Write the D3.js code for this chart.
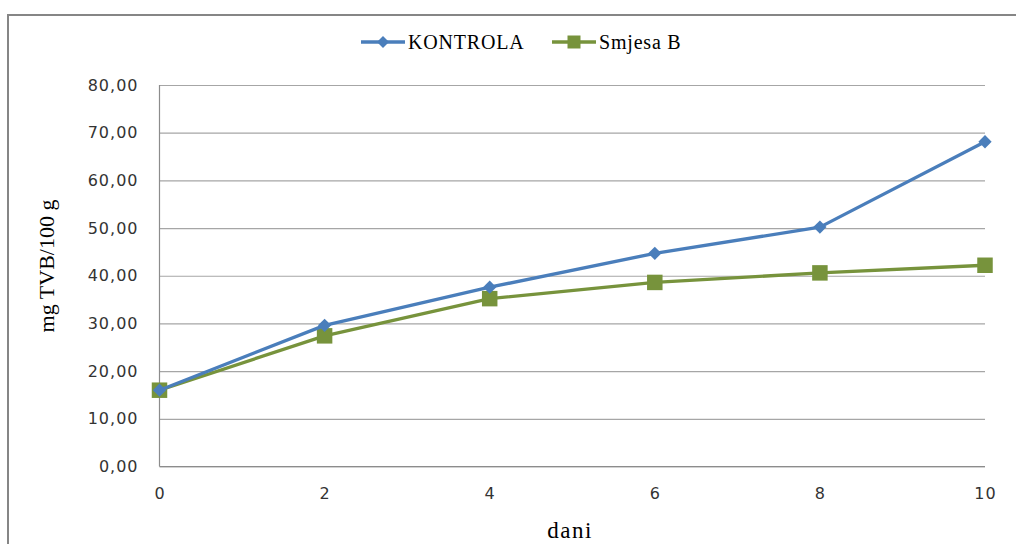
<!DOCTYPE html>
<html><head><meta charset="utf-8">
<script src="https://cdn.jsdelivr.net/npm/d3@7"></script>
<style>html,body{margin:0;padding:0;background:#fff;}svg{display:block;}</style>
</head><body>
<svg id="c" width="1016" height="544"></svg>
<script>
const days = [0, 2, 4, 6, 8, 10];
const kontrola = [16.0, 29.6, 37.6, 44.7, 50.2, 68.1];
const smjesaB = [16.0, 27.4, 35.2, 38.6, 40.6, 42.2];
const seriesNames = ["KONTROLA", "Smjesa B"];
const yTicks = [0, 10, 20, 30, 40, 50, 60, 70, 80];
const xTicks = [0, 2, 4, 6, 8, 10];
const yTitle = "mg TVB/100 g";
const xTitle = "dani";

const svg = d3.select("#c");
const blue = "#4a7ebb", green = "#77933c";

svg.append("rect").attr("x", 8).attr("y", 15).attr("width", 1030).attr("height", 560)
  .attr("fill", "#fff").attr("stroke", "#868686").attr("stroke-width", 2);

const L = 159.5, R = 985, T = 85, B = 466.5;
const x = d3.scaleLinear().domain([0, 10]).range([L, R]);
const y = d3.scaleLinear().domain([0, 80]).range([B, T]);

// gridlines
const gy = d3.axisLeft(y).tickValues(yTicks).tickSize(-(R - L)).tickFormat("");
svg.append("g").attr("transform", `translate(${L},0)`).call(gy)
  .call(g => g.select(".domain").remove())
  .call(g => g.selectAll("line").attr("stroke", "#a6a6a6").attr("stroke-width", 1.2));

// y axis labels
const ya = d3.axisLeft(y).tickValues(yTicks).tickSize(0).tickPadding(21)
  .tickFormat(d => d3.format(".2f")(d).replace(".", ","));
svg.append("g").attr("transform", `translate(${L},0)`).call(ya)
  .call(g => g.select(".domain").remove())
  .call(g => g.selectAll("text").attr("font-family", "DejaVu Sans").attr("font-size", 16)
    .attr("letter-spacing", 1).attr("fill", "#333"));

// x axis
const xa = d3.axisBottom(x).tickValues(xTicks).tickSize(0).tickPadding(21).tickFormat(d3.format("d"));
svg.append("g").attr("transform", `translate(0,${B})`).call(xa)
  .call(g => g.select(".domain").remove())
  .call(g => g.selectAll("text").attr("font-family", "DejaVu Sans").attr("font-size", 16)
    .attr("letter-spacing", 1).attr("fill", "#333"));

// axis lines
svg.append("line").attr("x1", L).attr("x2", L).attr("y1", T).attr("y2", B).attr("stroke", "#8c8c8c").attr("stroke-width", 1.2);
svg.append("line").attr("x1", L).attr("x2", R).attr("y1", B).attr("y2", B).attr("stroke", "#8c8c8c").attr("stroke-width", 1.2);

// titles
svg.append("text").attr("transform", `translate(54,266) rotate(-90)`).attr("text-anchor", "middle")
  .attr("font-family", "Liberation Serif").attr("font-size", 22)
  .attr("fill", "#000").text(yTitle);
svg.append("text").attr("x", 570).attr("y", 538).attr("text-anchor", "middle")
  .attr("font-family", "Liberation Serif").attr("font-size", 23).attr("letter-spacing", 1.5)
  .attr("fill", "#000").text(xTitle);

const line = d3.line().x((d, i) => x(days[i])).y(d => y(d));

// series
function drawSeries(vals, color, shape) {
  svg.append("path").datum(vals).attr("d", line).attr("fill", "none")
    .attr("stroke", color).attr("stroke-width", 3.3).attr("stroke-linejoin", "round");
  svg.append("g").selectAll("path").data(vals).join("path")
    .attr("transform", (d, i) => `translate(${x(days[i])},${y(d)})` + (shape === "diamond" ? " rotate(45)" : ""))
    .attr("d", d3.symbol().type(d3.symbolSquare).size(shape === "diamond" ? 88 : 240)())
    .attr("fill", color);
}
drawSeries(smjesaB, green, "square");
drawSeries(kontrola, blue, "diamond");

// legend
const leg = [
  {name: seriesNames[0], color: blue, shape: "diamond", x0: 361},
  {name: seriesNames[1], color: green, shape: "square", x0: 552}
];
const ly = 42;
leg.forEach(l => {
  svg.append("line").attr("x1", l.x0).attr("x2", l.x0 + 44).attr("y1", ly).attr("y2", ly)
    .attr("stroke", l.color).attr("stroke-width", 3.3);
  svg.append("path")
    .attr("transform", `translate(${l.x0 + 22},${ly})` + (l.shape === "diamond" ? " rotate(45)" : ""))
    .attr("d", d3.symbol().type(d3.symbolSquare).size(l.shape === "diamond" ? 72 : 169)())
    .attr("fill", l.color);
  svg.append("text").attr("x", l.x0 + 47).attr("y", ly + 7).attr("font-family", "Liberation Serif")
    .attr("font-size", 20).attr("letter-spacing", 0.8).attr("fill", "#000").text(l.name);
});
</script>
</body></html>
